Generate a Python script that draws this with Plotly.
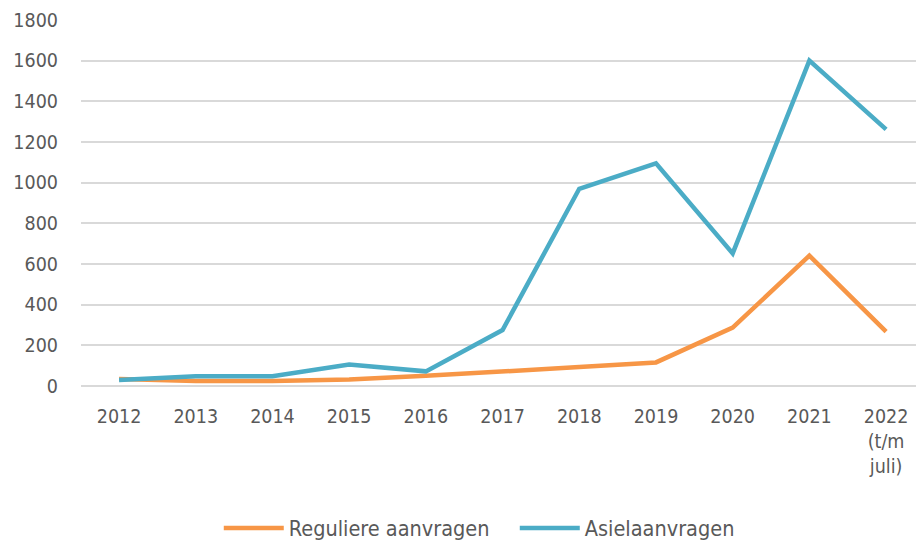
import plotly.graph_objects as go

categories = ["2012", "2013", "2014", "2015", "2016", "2017", "2018", "2019", "2020", "2021", "2022<br>(t/m<br>juli)"]
regulier = [35, 25, 25, 32, 50, 74, 93, 116, 287, 641, 267]
asiel = [30, 48, 48, 106, 72, 275, 970, 1095, 652, 1600, 1262]
y_ticks = [0, 200, 400, 600, 800, 1000, 1200, 1400, 1600, 1800]

FONT = "DejaVu Sans Condensed, Liberation Sans Narrow, Open Sans, sans-serif"
FS = 19.5

fig = go.Figure()
fig.add_trace(go.Scatter(x=categories, y=regulier, mode="lines", name="Reguliere aanvragen",
                         line=dict(color="#F79646", width=4.5)))
fig.add_trace(go.Scatter(x=categories, y=asiel, mode="lines", name="Asielaanvragen",
                         line=dict(color="#4BACC6", width=4.5)))

fig.update_layout(
    width=916, height=540,
    margin=dict(l=81, r=0, t=20, b=154, autoexpand=False),
    paper_bgcolor="white", plot_bgcolor="white",
    font=dict(family=FONT, size=FS, color="#595959"),
    showlegend=True,
    legend=dict(orientation="h", x=0.165, xanchor="left",
                yref="container", y=1 - 528 / 540, yanchor="middle",
                font=dict(size=21.5, color="#595959"), itemwidth=60,
                entrywidth=221, entrywidthmode="pixels", tracegroupgap=0),
    xaxis=dict(type="category", range=[-0.496, 10.39], showgrid=False, showline=False, ticks="",
               tickfont=dict(size=FS), ticklabelstandoff=16, automargin=False),
    yaxis=dict(range=[0, 1800], tickvals=y_ticks, showgrid=True, gridcolor="#D9D9D9",
               gridwidth=1.5, zeroline=True, zerolinecolor="#D9D9D9", zerolinewidth=1.5,
               showline=False, ticks="", tickfont=dict(size=FS), ticklabelstandoff=22,
               automargin=False),
)

fig.write_html("out.html", config={"displayModeBar": False},
               post_script="document.body.style.margin='0';document.body.style.overflow='hidden';")
